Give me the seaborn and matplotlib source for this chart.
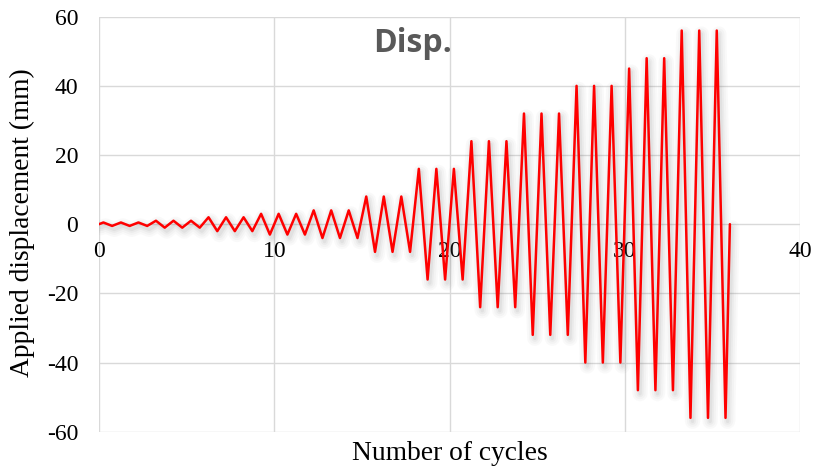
import matplotlib
matplotlib.use("Agg")
import matplotlib.pyplot as plt
import matplotlib.patheffects as pe
import numpy as np
import pandas as pd
import seaborn as sns

# Loading protocol: one positive and one negative peak per cycle (mm)
cycle_no = list(range(36))
peak_disp = [0.5, 0.5, 0.5, 1, 1, 1, 2, 2, 2, 3, 3, 3, 4, 4, 4, 8, 8, 8,
             16, 16, 16, 24, 24, 24, 32, 32, 32, 40, 40, 40, 45, 48, 48, 56, 56, 56]
trough_disp = [-0.5, -0.5, -0.5, -1, -1, -1, -2, -2, -2, -3, -3, -3, -4, -4, -4, -8, -8, -8,
               -16, -16, -16, -24, -24, -24, -32, -32, -32, -40, -40, -40, -48, -48, -48, -56, -56, -56]
x_ticks = [0, 10, 20, 30, 40]
y_ticks = [-60, -40, -20, 0, 20, 40, 60]

# Build the displacement history: start at rest, peak at quarter cycle,
# trough at three-quarter cycle, return to rest after the last cycle
t = [0.0]
d = [0.0]
for c, p, q in zip(cycle_no, peak_disp, trough_disp):
    t += [c + 0.25, c + 0.75]
    d += [p, q]
t.append(cycle_no[-1] + 1.0)
d.append(0.0)
history = pd.DataFrame({"cycle": t, "disp": d})

sns.set_theme(style="white")
plt.rcParams["font.family"] = ["Liberation Serif", "DejaVu Serif"]

fig = plt.figure(figsize=(8.17, 4.72), dpi=100)
ax = fig.add_axes([99 / 817, 1 - 431.7 / 472, 701 / 817, (431.7 - 16.7) / 472])

shadow = [pe.SimpleLineShadow(offset=(1.5, -2.5), shadow_color="#707070", alpha=a, linewidth=w)
          for w, a in ((11, 0.035), (8, 0.045), (5, 0.06), (2.5, 0.08))]
sns.lineplot(data=history, x="cycle", y="disp", sort=False, estimator=None,
             color="#ff0000", linewidth=1.8, ax=ax, zorder=3,
             path_effects=shadow + [pe.Normal()])

ax.set_xlim(0, 40)
ax.set_ylim(-60, 60)
ax.set_xticks(x_ticks)
ax.set_yticks(y_ticks)
ax.set_xticklabels([str(v) for v in x_ticks])
ax.set_yticklabels([str(v) for v in y_ticks])

for s in ax.spines.values():
    s.set_visible(False)
ax.spines["bottom"].set_position(("data", 0))

ax.grid(True, color="#d9d9d9", linewidth=1.0)
ax.set_axisbelow(True)
ax.tick_params(axis="x", length=0, pad=12, labelsize=17, labelcolor="black")
ax.tick_params(axis="y", length=0, pad=15, labelsize=17, labelcolor="black")

ax.set_xlabel("")
ax.set_ylabel("")
fig.text(450 / 817, 1 - 453 / 472, "Number of cycles", ha="center", va="center",
         fontsize=19.8, color="black")
fig.text(22 / 817, 1 - 223 / 472, "Applied displacement (mm)", ha="center", va="center",
         rotation=90, fontsize=19.8, color="black")

ax.text(413 / 817, 1 - 44 / 472, "Disp.", transform=fig.transFigure, ha="center", va="center",
        fontsize=23, fontweight="bold", color="#595959", family=["Open Sans", "DejaVu Sans"])

fig.savefig("out.png", dpi=100)
